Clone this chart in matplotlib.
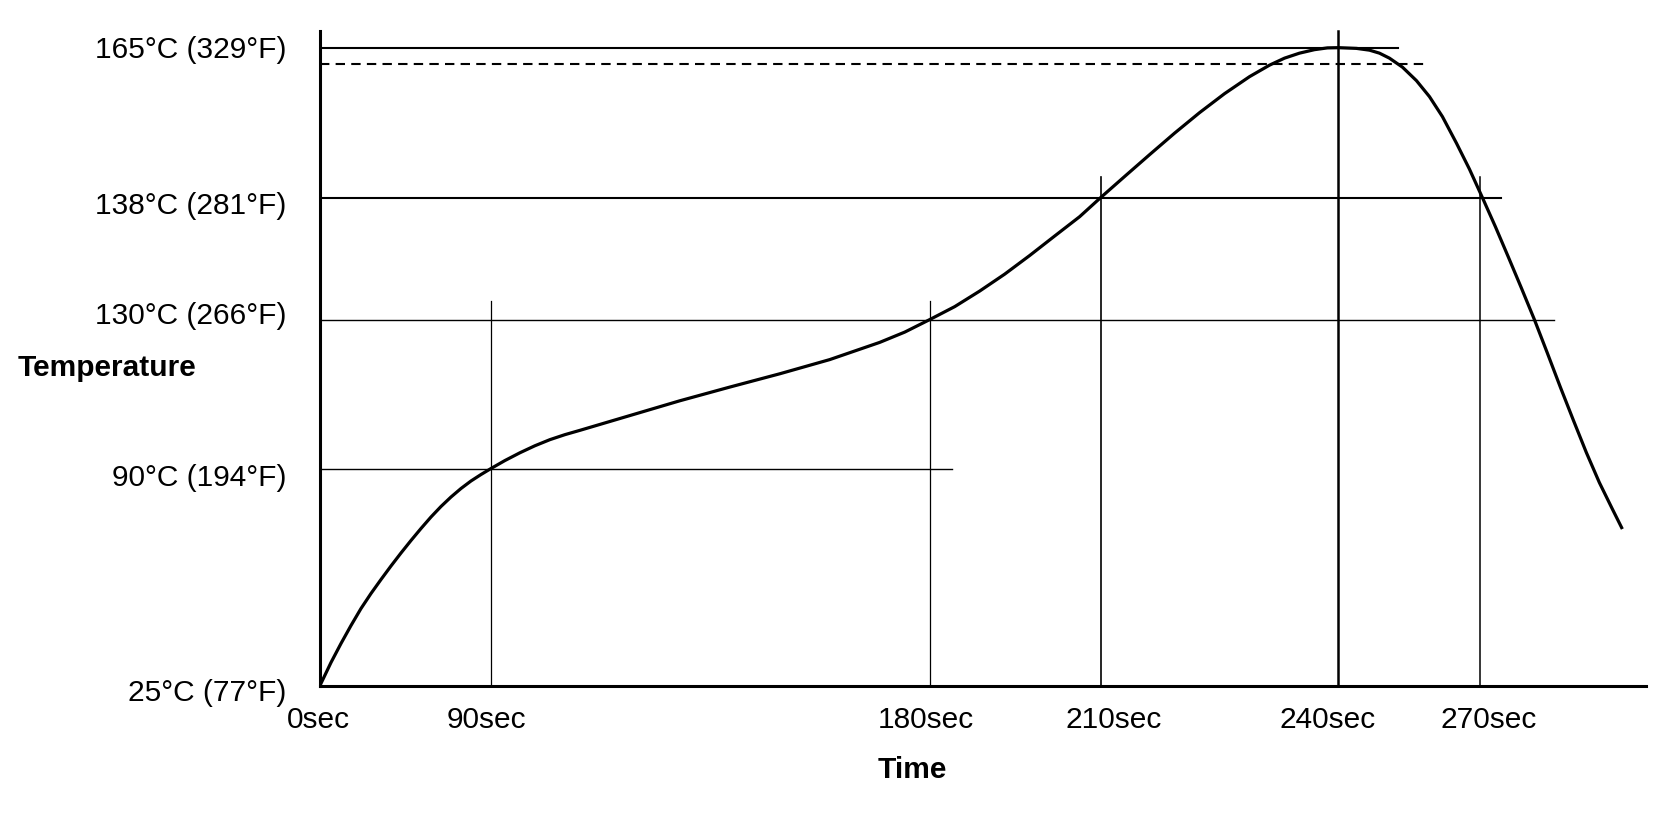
import matplotlib
matplotlib.use('Agg')
import matplotlib.pyplot as plt
import matplotlib.transforms as mtransforms
import numpy as np

plt.rcParams['font.family'] = ['Liberation Sans', 'DejaVu Sans']

# reflow profile (seconds, deg C)
time_s = [0, 5.79, 11.05, 16.32, 21.58, 26.84, 32.11, 37.37, 42.63, 47.89,
          53.16, 58.42, 63.68, 68.95, 74.21, 79.47, 84.74, 90,
          92.87, 95.95, 99.02, 102.10, 105.17, 108.25, 118.50, 128.75, 139.0,
          149.25, 159.50, 169.75, 174.88, 180,
          184.39, 188.77, 193.16, 197.54, 201.93, 206.32, 210,
          213.15, 216.18, 219.33, 222.48, 225.63, 228.78, 231.30, 233.19,
          235.08, 236.97, 238.61, 240,
          243.80, 246.55, 248.66, 250.77, 253.52, 256.48, 259.23, 261.97,
          264.93, 267.68, 270.42, 273.17, 275.92, 278.66, 281.41, 284.15,
          286.90, 289.65, 292.39, 295.14, 297.89, 300.0]
temp_c = [25, 31.89, 37.58, 42.97, 48.06, 52.56, 56.75, 60.80, 64.69, 68.43,
          72.03, 75.47, 78.62, 81.46, 84.01, 86.26, 88.20, 90,
          92.15, 94.24, 96.12, 97.76, 99.10, 100.26, 104.23, 108.20, 111.88,
          115.45, 119.26, 123.88, 126.64, 130,
          130.85, 131.87, 132.98, 134.20, 135.48, 136.75, 138,
          141.96, 145.74, 149.61, 153.30, 156.72, 159.78, 161.85, 163.11,
          164.01, 164.64, 164.96, 165,
          164.87, 164.55, 164.01, 163.11, 161.49, 159.06, 156.18, 152.58,
          147.81, 143.13, 138, 136.09, 134.09, 132.07, 130.0, 121.01,
          111.85, 102.97, 94.30, 85.81, 77.87, 71.88]

time_ticks = [0, 90, 180, 210, 240, 270]
time_labels = ['0sec', '90sec', '180sec', '210sec', '240sec', '270sec']
temp_ticks = [25, 90, 130, 138, 165]
temp_labels = ['25°C (77°F)', '90°C (194°F)', '130°C (266°F)',
               '138°C (281°F)', '165°C (329°F)']

# guide lines
level_temps = [165, 162, 138, 130, 90]
level_ends = [252.5, 258.6, 274.4, 285.6, 183.9]
marker_times = [90, 180, 210, 240, 270]
marker_tops = [131.2, 131.2, 141.7, 168, 141.7]

# the drawing is not to scale: piecewise axes through the tick positions
x_knots = [-100, 0, 90, 180, 210, 240, 270, 400]
x_pos = [-190.2, 0, 171, 610, 781, 1019, 1161, 1776.3]
y_knots = [-100, 25, 90, 130, 138, 165, 300]
y_pos = [-417.3, 0, 217, 366, 488, 638, 1388]

def xf(v): return np.interp(v, x_knots, x_pos)
def xi(v): return np.interp(v, x_pos, x_knots)
def yf(v): return np.interp(v, y_knots, y_pos)
def yi(v): return np.interp(v, y_pos, y_knots)

W, H = 1663, 820
fig = plt.figure(figsize=(W / 100, H / 100), dpi=100)
ax = fig.add_axes([320 / W, (H - 686.5) / H, (1646 - 320) / W, (686.5 - 32) / H])
ax.set_xscale('function', functions=(xf, xi))
ax.set_yscale('function', functions=(yf, yi))
ax.set_xlim(0, 305)
ax.set_ylim(25, 168)

lws = [1.5, 1.5, 1.5, 1.0, 1.0]
for t, end, lw in zip(level_temps, level_ends, lws):
    if t == 162:
        ax.plot([0, end], [t, t], color='black', lw=lw, linestyle=(0, (4.5, 3.0)))
    else:
        ax.plot([0, end], [t, t], color='black', lw=lw)

vlws = [0.9, 0.9, 1.2, 1.8, 1.1]
for t, top, lw in zip(marker_times, marker_tops, vlws):
    ax.plot([t, t], [25, top], color='black', lw=lw, clip_on=False)

ax.plot(time_s, temp_c, color='black', lw=2.3, solid_capstyle='butt',
        solid_joinstyle='round')

for s in ['top', 'right']:
    ax.spines[s].set_visible(False)
for s in ['left', 'bottom']:
    ax.spines[s].set_linewidth(2.2)

ax.set_xticks(time_ticks)
ax.set_xticklabels(time_labels)
ax.set_yticks(temp_ticks)
ax.set_yticklabels(temp_labels)
ax.minorticks_off()
ax.tick_params(axis='x', length=0, pad=14, labelsize=21.5)
ax.tick_params(axis='y', length=0, pad=24, labelsize=21.5)

# labels in the original sit a little off their lines
x_shift = [-2, -5, -4, 13, -11, 8]
y_shift = [-4, -5, 8, -4, 2]
for lbl, dx in zip(ax.get_xticklabels(), x_shift):
    lbl.set_transform(lbl.get_transform() + mtransforms.ScaledTranslation(dx / 100, 0, fig.dpi_scale_trans))
for lbl, dy in zip(ax.get_yticklabels(), y_shift):
    lbl.set_transform(lbl.get_transform() + mtransforms.ScaledTranslation(0, dy / 100, fig.dpi_scale_trans))

fig.text(18 / W, 1 - 368 / H, 'Temperature', ha='left', va='center',
         fontsize=21.5, fontweight='bold')
fig.text(912 / W, 1 - 770 / H, 'Time', ha='center', va='center',
         fontsize=21.5, fontweight='bold')

fig.savefig('out.png', dpi=100)
